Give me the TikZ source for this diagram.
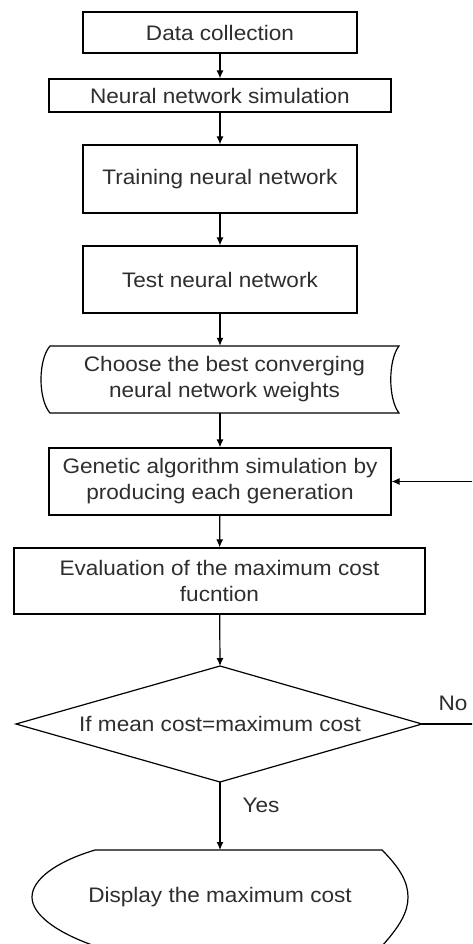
\documentclass[tikz,border=0pt]{standalone}
\usepackage{fontspec}
\setmainfont[FakeStretch=1.075]{Liberation Sans}
\usetikzlibrary{arrows.meta,calc}
\definecolor{txt}{HTML}{2E2E2E}
\begin{document}
\begin{tikzpicture}[x=1pt,y=-1pt,
  every node/.style={font=\fontsize{21}{26}\selectfont, text=txt, align=center, inner sep=0pt},
  box/.style={draw=black, line width=1.2pt, rectangle},
  shapeline/.style={draw=black, line width=1.2pt},
  conn/.style={draw=black, line width=1.2pt, -{Latex[length=8pt,width=7pt]}},
  lab/.style={font=\fontsize{21}{24}\selectfont}]
\useasboundingbox (0,0) rectangle (472,944);
\clip (0,0) rectangle (472,944);
\fill[white] (0,0) rectangle (472,944);

\node[box, minimum width=274pt, minimum height=41pt] (b1) at (220,32.5) {Data collection};
\node[box, minimum width=342pt, minimum height=33pt] (b2) at (220,95.5) {Neural network simulation};
\node[box, minimum width=274pt, minimum height=68pt] (b3) at (220,179) {Training neural network};
\node[box, minimum width=274pt, minimum height=67pt] (b4) at (220,279.5) {Test neural network};
\node[minimum width=349pt, minimum height=67pt] (b5) at (224.5,379.5) {Choose the best converging\\neural network weights};
\draw[shapeline] (50,346) -- (399,346) .. controls (388,360) and (388,399) .. (399,413)
  -- (50,413) .. controls (38,399) and (38,360) .. (50,346) -- cycle;
\node[box, minimum width=342pt, minimum height=67pt] (b6) at (220,481.5) {Genetic algorithm simulation by\\producing each generation};
\node[box, minimum width=411pt, minimum height=66pt] (b7) at (219.5,581) {Evaluation of the maximum cost\\fucntion};

\node (d) at (220,724) {If mean cost=maximum cost};
\coordinate (dT) at (220,666);
\coordinate (dB) at (220,782);
\coordinate (dL) at (16,724);
\coordinate (dR) at (422,724);
\draw[shapeline] (dT) -- (dR) -- (dB) -- (dL) -- cycle;

\node (disp) at (220,897) {Display the maximum cost};
\coordinate (dispT) at (220,850);
\draw[shapeline] (95,850) -- (382,850) .. controls (400,868) and (408,882) .. (408,897)
  .. controls (408,912) and (400,926) .. (382,946) -- (95,946)
  .. controls (55,932) and (32,914) .. (32,897) .. controls (32,880) and (55,862) .. (95,850) -- cycle;

\draw[conn] (b1) -- (b2);
\draw[conn] (b2) -- (b3);
\draw[conn] (b3) -- (b4);
\draw[conn] (b4) -- (b4 |- b5.north);
\draw[conn] (b4 |- b5.south) -- (b6);
\draw[conn] (b6) -- (b7);
\draw[conn] (b7) -- (dT);
\draw[conn] (dB) -- (dispT);

\coordinate (loopA) at (478,724);
\coordinate (loopB) at (478,481.5);
\draw[conn] (dR) -- (loopA) -- (loopB) -- (b6.east);

\node[lab] (no) at (453,703) {No};
\node[lab] (yes) at (261,805) {Yes};
\end{tikzpicture}
\end{document}
